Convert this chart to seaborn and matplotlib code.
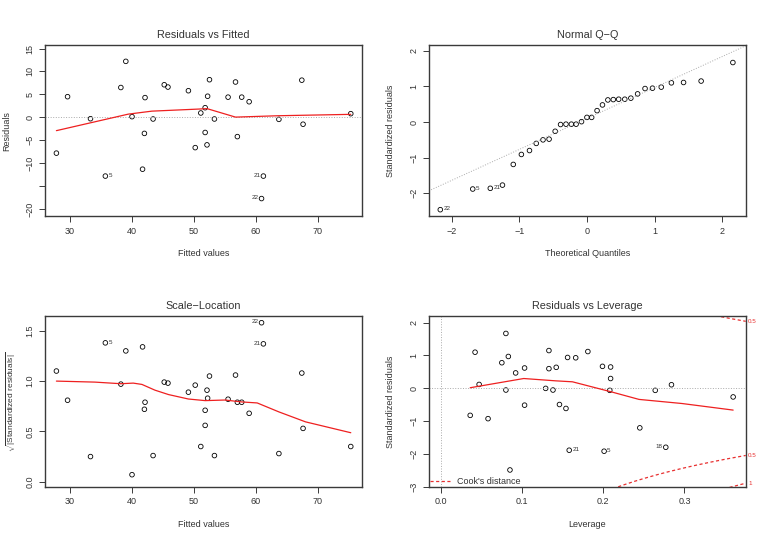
import numpy as np
import pandas as pd
import matplotlib
matplotlib.use('Agg')
import matplotlib.pyplot as plt
import seaborn as sns

# ---- data ----
fitted = [27.8, 29.6, 33.3, 35.7, 38.2, 39.0, 40.0, 41.7, 42.0, 42.1, 43.4,
          45.2, 45.8, 49.1, 50.2, 51.1, 51.8, 51.8, 52.1, 52.2, 52.5, 53.3,
          55.5, 56.7, 57.0, 57.7, 58.9, 60.9, 61.2, 63.7, 67.4, 67.6, 75.3]
residuals = [-7.8, 4.5, -0.3, -12.8, 6.5, 12.2, 0.15, -11.3, -3.5, 4.3, -0.36,
             7.1, 6.6, 5.8, -6.6, 0.95, -3.3, 2.1, -6.0, 4.6, 8.2, -0.36,
             4.4, 7.7, -4.2, 4.4, 3.4, -17.7, -12.8, -0.44, 8.1, -1.5, 0.8]
sqrt_std_resid = [1.10, 0.81, 0.25, 1.38, 0.97, 1.30, 0.07, 1.34, 0.72, 0.79, 0.26,
                  0.99, 0.98, 0.89, 0.96, 0.35, 0.71, 0.56, 0.91, 0.83, 1.05, 0.26,
                  0.82, 1.06, 0.79, 0.79, 0.68, 1.58, 1.37, 0.28, 1.08, 0.53, 0.35]

theoretical_q = [-2.17, -1.69, -1.43, -1.25, -1.09, -0.97, -0.85, -0.75, -0.65, -0.56, -0.47,
                 -0.39, -0.31, -0.23, -0.16, -0.08, 0.0, 0.07, 0.15, 0.23, 0.31, 0.39,
                 0.47, 0.56, 0.65, 0.75, 0.86, 0.97, 1.10, 1.25, 1.43, 1.69, 2.16]
sample_q = [-2.46, -1.88, -1.86, -1.77, -1.19, -0.91, -0.80, -0.60, -0.50, -0.48, -0.26,
            -0.07, -0.06, -0.06, -0.06, 0.01, 0.13, 0.13, 0.32, 0.48, 0.62, 0.63,
            0.64, 0.64, 0.67, 0.79, 0.94, 0.95, 0.98, 1.10, 1.11, 1.15, 1.67]
qq_intercept = 0.10
qq_slope = 0.868

leverage = [0.036, 0.042, 0.047, 0.058, 0.075, 0.080, 0.080, 0.083, 0.085, 0.092, 0.103,
            0.103, 0.129, 0.133, 0.133, 0.138, 0.142, 0.146, 0.154, 0.156, 0.158, 0.166,
            0.181, 0.199, 0.201, 0.208, 0.209, 0.209, 0.245, 0.264, 0.277, 0.284, 0.360]
std_resid = [-0.82, 1.10, 0.12, -0.92, 0.78, -0.05, 1.67, 0.97, -2.48, 0.47, -0.51,
             0.62, 0.00, 1.15, 0.60, -0.05, 0.64, -0.49, -0.61, 0.94, -1.88, 0.93,
             1.12, 0.67, -1.91, -0.06, 0.65, 0.30, -1.20, -0.06, -1.79, 0.11, -0.26]
n_params = 5
cook_levels = [0.5, 1]

# smoothers (red lines)
rvf_smooth_x = [27.8, 39.4, 43.2, 50.7, 52.1, 56.7, 63.6, 75.3]
rvf_smooth_y = [-2.9, 0.7, 1.35, 1.8, 1.9, 0.05, 0.35, 0.65]
sl_smooth_x = [27.8, 34.0, 38.2, 40.2, 41.6, 43.7, 45.9, 49.1, 51.8, 55.0, 57.7, 60.2, 63.7, 68.0, 75.3]
sl_smooth_y = [1.0, 0.99, 0.974, 0.98, 0.967, 0.91, 0.866, 0.822, 0.806, 0.812, 0.793, 0.783, 0.694, 0.595, 0.487]
lev_smooth_x = [0.036, 0.102, 0.141, 0.162, 0.209, 0.244, 0.297, 0.360]
lev_smooth_y = [0.02, 0.30, 0.23, 0.20, -0.10, -0.335, -0.46, -0.66]

# case labels: (index, label, side)
rvf_ids = [(3, '5', 'r'), (27, '22', 'l'), (28, '21', 'l')]
qq_ids = [(0, '22', 'r'), (1, '5', 'r'), (2, '21', 'r')]
sl_ids = [(3, '5', 'r'), (27, '22', 'l'), (28, '21', 'l')]
lev_ids = [(20, '21', 'r'), (24, '5', 'r'), (30, '18', 'l')]

sns.set_style('ticks')
plt.rcParams['font.family'] = ['Liberation Sans', 'DejaVu Sans']
plt.rcParams['mathtext.fontset'] = 'custom'
plt.rcParams['mathtext.rm'] = 'Liberation Sans'
plt.rcParams['mathtext.it'] = 'Liberation Sans'

fig, axes = plt.subplots(2, 2, figsize=(7.68, 5.43), dpi=100)
fig.subplots_adjust(left=0.0586, right=0.971, top=0.917, bottom=0.103,
                    wspace=0.211, hspace=0.579)

txt = '#333333'


def r_axes(ax, title, xlabel, ylabel, ylab_x=-0.108):
    for s in ax.spines.values():
        s.set_visible(True)
        s.set_color('#3a3a3a')
        s.set_linewidth(1.0)
    ax.tick_params(length=4, width=0.7, color='#3a3a3a', labelsize=6.5,
                   labelcolor=txt, pad=3.5)
    ax.tick_params(axis='y', labelrotation=90)
    for lab in ax.get_yticklabels():
        lab.set_va('center')
    ax.set_title(title, fontsize=7.8, color=txt, pad=5)
    ax.set_xlabel(xlabel, fontsize=6.5, color=txt)
    ax.set_ylabel(ylabel, fontsize=6.5, color=txt)
    ax.xaxis.set_label_coords(0.5, -0.19)
    ax.yaxis.set_label_coords(ylab_x, 0.5)


def points(ax, x, y):
    sns.scatterplot(x=x, y=y, ax=ax, marker='o', s=11, facecolor='none',
                    edgecolor='black', linewidth=0.6, legend=False)


def smooth(ax, x, y):
    sns.lineplot(x=x, y=y, ax=ax, color='#ee2020', lw=0.9, sort=False,
                 estimator=None, legend=False)


def case_labels(ax, x, y, ids):
    for i, lab, side in ids:
        off = 2.2 if side == 'r' else -2.2
        ax.annotate(lab, (x[i], y[i]), xytext=(off, 0.6), textcoords='offset points',
                    ha='left' if side == 'r' else 'right', va='center',
                    fontsize=4.5, color=txt)


# Residuals vs Fitted
ax = axes[0, 0]
ax.axhline(0, color='#aaaaaa', ls=':', lw=0.7)
smooth(ax, rvf_smooth_x, rvf_smooth_y)
points(ax, fitted, residuals)
case_labels(ax, fitted, residuals, rvf_ids)
ax.set_xlim(25.96, 77.1)
ax.set_ylim(-21.6, 15.75)
ax.set_xticks([30, 40, 50, 60, 70])
ax.set_yticks([-20, -15, -10, -5, 0, 5, 10, 15])
ax.set_yticklabels(['\u221220', '', '\u221210', '\u22125', '0', '5', '10', '15'])
r_axes(ax, 'Residuals vs Fitted', 'Fitted values', 'Residuals')

# Normal Q-Q
ax = axes[0, 1]
ax.axline((0, qq_intercept), slope=qq_slope, color='#aaaaaa', ls=':', lw=0.7)
points(ax, theoretical_q, sample_q)
case_labels(ax, theoretical_q, sample_q, qq_ids)
ax.set_xlim(-2.34, 2.35)
ax.set_ylim(-2.65, 2.16)
ax.set_xticks([-2, -1, 0, 1, 2])
ax.set_yticks([-2, -1, 0, 1, 2])
r_axes(ax, 'Normal Q\u2212Q', 'Theoretical Quantiles', 'Standardized residuals')

# Scale-Location
ax = axes[1, 0]
smooth(ax, sl_smooth_x, sl_smooth_y)
points(ax, fitted, sqrt_std_resid)
case_labels(ax, fitted, sqrt_std_resid, sl_ids)
ax.set_xlim(25.96, 77.1)
ax.set_ylim(-0.053, 1.65)
ax.set_xticks([30, 40, 50, 60, 70])
ax.set_yticks([0.0, 0.5, 1.0, 1.5])
ax.set_yticklabels(['0.0', '0.5', '1.0', '1.5'])
r_axes(ax, 'Scale\u2212Location', 'Fitted values',
       r'$\sqrt{|\mathrm{Standardized\ residuals}|}$', ylab_x=-0.086)
ax.yaxis.label.set_fontsize(6.0)

# Residuals vs Leverage
ax = axes[1, 1]
xlim = (-0.015, 0.3755)
ax.axhline(0, color='#aaaaaa', ls=':', lw=0.7)
ax.axvline(0, color='#aaaaaa', ls=':', lw=0.7)
smooth(ax, lev_smooth_x, lev_smooth_y)
points(ax, leverage, std_resid)
case_labels(ax, leverage, std_resid, lev_ids)
h = np.linspace(0.01, xlim[1], 200)
for k, lvl in enumerate(cook_levels):
    curve = np.sqrt(lvl * n_params * (1 - h) / h)
    lbl = "Cook's distance" if k == 0 else None
    ax.plot(h, curve, color='#e83030', ls=(0, (2.5, 2)), lw=0.9, label=lbl)
    ax.plot(h, -curve, color='#e83030', ls=(0, (2.5, 2)), lw=0.9)
    edge = np.sqrt(lvl * n_params * (1 - xlim[1]) / xlim[1])
    for yy in (edge, -edge):
        if -2.99 < yy < 2.21:
            ax.text(xlim[1] + 0.003, yy, f'{lvl:g}', fontsize=4.5, color='#e83030',
                    ha='left', va='center', clip_on=False)
ax.set_xlim(*xlim)
ax.set_ylim(-2.99, 2.21)
ax.set_xticks([0.0, 0.1, 0.2, 0.3])
ax.set_xticklabels(['0.0', '0.1', '0.2', '0.3'])
ax.set_yticks([-3, -2, -1, 0, 1, 2])
ax.legend(loc='lower left', frameon=False, fontsize=6.5, handlelength=2.2,
          borderaxespad=0.0, borderpad=0.15, labelcolor=txt, handletextpad=0.8)
r_axes(ax, 'Residuals vs Leverage', 'Leverage', 'Standardized residuals')

fig.savefig('out.png', dpi=100)
